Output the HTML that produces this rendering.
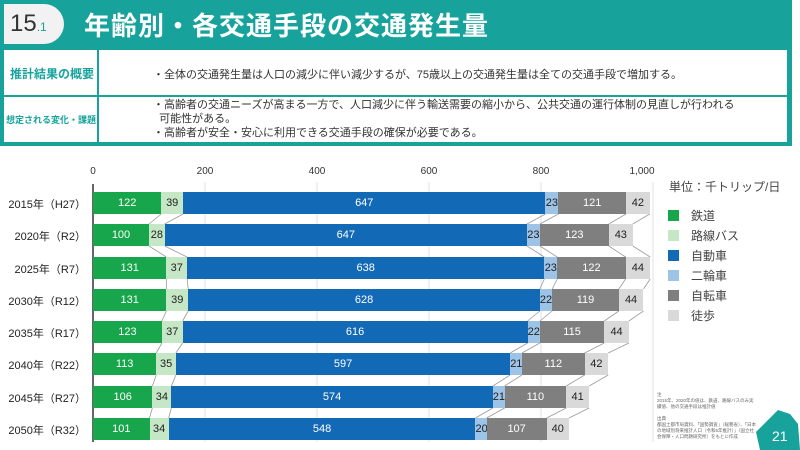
<!DOCTYPE html>
<html><head><meta charset="utf-8"><style>
*{margin:0;padding:0;box-sizing:border-box}
body{width:800px;height:450px;background:#fff;position:relative;overflow:hidden;font-family:"Liberation Sans","Noto Sans CJK JP",sans-serif;color:#333}
.hdr{position:absolute;left:0;top:0;width:792px;height:146px;background:#17a39c}
.badge{position:absolute;left:4px;top:4px;width:60px;height:40px;background:#f2f2f2;border-radius:0 20px 20px 0;font-size:24px;color:#333;padding:6px 0 0 6px}
.badge small{font-size:12px;color:#17a39c}
.title{position:absolute;left:84px;top:6px;font-size:26px;color:#fff;font-weight:bold;letter-spacing:1px}
.cell{position:absolute;background:#fff;font-size:11px;white-space:nowrap}
.lab{color:#17a39c;font-size:12px;font-weight:bold}
.row{position:absolute;left:93px;height:22px;display:flex}
.row div{height:22px;line-height:22px;text-align:center;font-size:11px;overflow:visible;white-space:nowrap}
.a{background:#17a64b;color:#fff}.b{background:#c5e7c6;color:#222}.c{background:#1269b6;color:#fff}.d{background:#9dc3e6;color:#222}.e{background:#7f7f7f;color:#fff}.f{background:#d9d9d9;color:#222}
.yl{position:absolute;width:86px;text-align:right;font-size:11px;color:#222}
.tk{position:absolute;top:166px;font-size:10px;color:#333;width:40px;text-align:center}
.lg{position:absolute;left:668px;font-size:12px;color:#444}
.lg i{display:inline-block;width:11px;height:11px;margin-right:12px;vertical-align:-1px}
</style></head><body>
<div class="hdr">
<div class="badge">15<small>.1</small></div>
<div class="title">年齢別・各交通手段の交通発生量</div>
<div class="cell lab" style="left:4px;top:50px;width:93px;height:45px;padding:15px 0 0 6px">推計結果の概要</div>
<div class="cell" style="left:99px;top:50px;width:688px;height:45px;padding:16px 0 0 54px">・全体の交通発生量は人口の減少に伴い減少するが、75歳以上の交通発生量は全ての交通手段で増加する。</div>
<div class="cell lab" style="left:4px;top:97px;width:93px;height:45px;padding:16px 0 0 2px;font-size:9px">想定される変化・課題</div>
<div class="cell" style="left:99px;top:97px;width:688px;height:45px;padding:1px 0 0 54px;line-height:14px">・高齢者の交通ニーズが高まる一方で、人口減少に伴う輸送需要の縮小から、公共交通の運行体制の見直しが行われる<br>&nbsp;&nbsp;可能性がある。<br>・高齢者が安全・安心に利用できる交通手段の確保が必要である。</div>
</div>

<svg style="position:absolute;left:0;top:0" width="800" height="450">
<g stroke="#e0e0e0" stroke-width="1">
<line x1="205" y1="182" x2="205" y2="442"/><line x1="317" y1="182" x2="317" y2="442"/><line x1="429" y1="182" x2="429" y2="442"/><line x1="541" y1="182" x2="541" y2="442"/><line x1="653" y1="182" x2="653" y2="442"/>
</g>
<g transform="translate(93,0) scale(0.56,1)" stroke="#999" fill="none">
<path vector-effect="non-scaling-stroke" stroke-width="0.8" d="
M122 214L100 224M161 214L128 224M808 214L775 224M831 214L798 224M952 214L921 224M994 214L964 224
M100 246L131 257M128 246L168 257M775 246L806 257M798 246L829 257M921 246L951 257M964 246L995 257
M131 279L131 289M168 279L170 289M806 279L798 289M829 279L820 289M951 279L939 289M995 279L983 289
M131 311L123 321M170 311L160 321M798 311L776 321M820 311L798 321M939 311L913 321M983 311L957 321
M123 343L113 353M160 343L148 353M776 343L745 353M798 343L766 353M913 343L878 353M957 343L920 353
M113 375L106 386M148 375L140 386M745 375L714 386M766 375L735 386M878 375L845 386M920 375L886 386
M106 408L101 418M140 408L135 418M714 408L683 418M735 408L703 418M845 408L810 418M886 408L850 418"/>
</g>
<line x1="93" y1="184" x2="93" y2="442" stroke="#666" stroke-width="2"/>
<path d="M770 418 L778 410 L790 414 L798 424 L800 450 L760 450 L756 432 Z" fill="#17a39c"/>
<text x="772" y="441" font-size="14" fill="#fff" font-family="Liberation Sans">21</text>
</svg>

<div class="tk" style="left:73px">0</div><div class="tk" style="left:185px">200</div><div class="tk" style="left:297px">400</div><div class="tk" style="left:409px">600</div><div class="tk" style="left:521px">800</div><div class="tk" style="left:622px">1,000</div>

<div class="yl" style="top:196px">2015年（H27）</div>
<div class="yl" style="top:228px">2020年（R2）</div>
<div class="yl" style="top:261px">2025年（R7）</div>
<div class="yl" style="top:293px">2030年（R12）</div>
<div class="yl" style="top:325px">2035年（R17）</div>
<div class="yl" style="top:357px">2040年（R22）</div>
<div class="yl" style="top:390px">2045年（R27）</div>
<div class="yl" style="top:422px">2050年（R32）</div>

<div class="row" style="top:192px"><div class="a" style="width:68.3px">122</div><div class="b" style="width:21.8px">39</div><div class="c" style="width:362.3px">647</div><div class="d" style="width:12.9px">23</div><div class="e" style="width:67.8px">121</div><div class="f" style="width:23.5px">42</div></div>
<div class="row" style="top:224px"><div class="a" style="width:56px">100</div><div class="b" style="width:15.7px">28</div><div class="c" style="width:362.3px">647</div><div class="d" style="width:12.9px">23</div><div class="e" style="width:68.9px">123</div><div class="f" style="width:24.1px">43</div></div>
<div class="row" style="top:257px"><div class="a" style="width:73.4px">131</div><div class="b" style="width:20.7px">37</div><div class="c" style="width:357.3px">638</div><div class="d" style="width:12.9px">23</div><div class="e" style="width:68.3px">122</div><div class="f" style="width:24.6px">44</div></div>
<div class="row" style="top:289px"><div class="a" style="width:73.4px">131</div><div class="b" style="width:21.8px">39</div><div class="c" style="width:351.7px">628</div><div class="d" style="width:12.3px">22</div><div class="e" style="width:66.6px">119</div><div class="f" style="width:24.6px">44</div></div>
<div class="row" style="top:321px"><div class="a" style="width:68.9px">123</div><div class="b" style="width:20.7px">37</div><div class="c" style="width:345px">616</div><div class="d" style="width:12.3px">22</div><div class="e" style="width:64.4px">115</div><div class="f" style="width:24.6px">44</div></div>
<div class="row" style="top:353px"><div class="a" style="width:63.3px">113</div><div class="b" style="width:19.6px">35</div><div class="c" style="width:334.3px">597</div><div class="d" style="width:11.8px">21</div><div class="e" style="width:62.7px">112</div><div class="f" style="width:23.5px">42</div></div>
<div class="row" style="top:386px"><div class="a" style="width:59.4px">106</div><div class="b" style="width:19px">34</div><div class="c" style="width:321.4px">574</div><div class="d" style="width:11.8px">21</div><div class="e" style="width:61.6px">110</div><div class="f" style="width:23px">41</div></div>
<div class="row" style="top:418px"><div class="a" style="width:56.6px">101</div><div class="b" style="width:19px">34</div><div class="c" style="width:306.9px">548</div><div class="d" style="width:11.2px">20</div><div class="e" style="width:59.9px">107</div><div class="f" style="width:22.4px">40</div></div>

<div style="position:absolute;left:669px;top:178px;font-size:12px;color:#444">単位：千トリップ/日</div>
<div class="lg" style="top:207px"><i style="background:#17a64b"></i>鉄道</div>
<div class="lg" style="top:227px"><i style="background:#c5e7c6"></i>路線バス</div>
<div class="lg" style="top:247px"><i style="background:#1269b6"></i>自動車</div>
<div class="lg" style="top:267px"><i style="background:#9dc3e6"></i>二輪車</div>
<div class="lg" style="top:287px"><i style="background:#7f7f7f"></i>自転車</div>
<div class="lg" style="top:307px"><i style="background:#d9d9d9"></i>徒歩</div>

<div style="position:absolute;left:657px;top:392px;font-size:4.5px;line-height:6px;color:#666;width:100px">注<br>2015年、2020年の値は、鉄道、路線バスのみ実績値、他の交通手段は推計値<br><br>出典<br>都国土都市局資料、「国勢調査」（総務省）、「日本の地域別将来推計人口（令和5年推計）」（国立社会保障・人口問題研究所）をもとに作成</div>
</body></html>
